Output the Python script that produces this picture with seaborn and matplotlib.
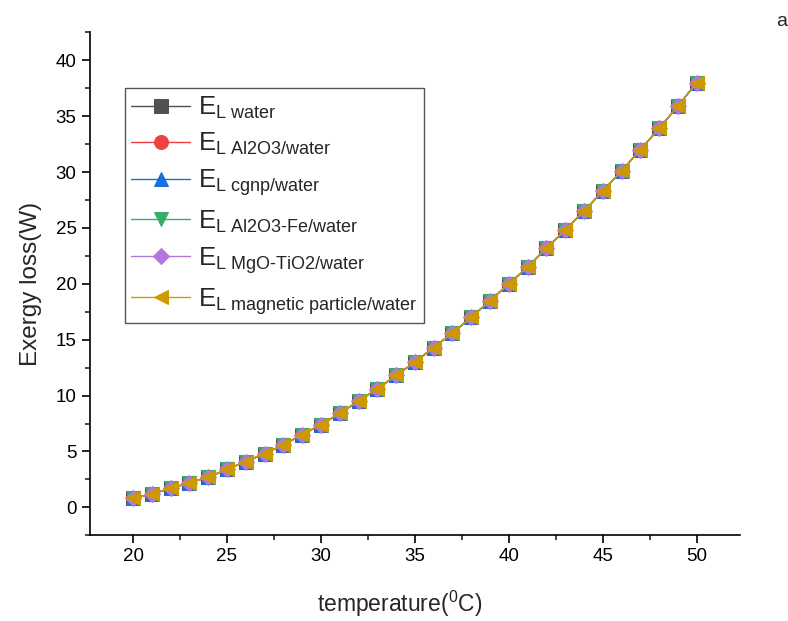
import pandas as pd
import matplotlib
matplotlib.use('Agg')
import matplotlib.pyplot as plt
from matplotlib.ticker import MultipleLocator
import seaborn as sns

# temperature (C) and exergy loss (W)
temperature = [20, 21, 22, 23, 24, 25, 26, 27, 28, 29, 30, 31, 32, 33, 34, 35,
               36, 37, 38, 39, 40, 41, 42, 43, 44, 45, 46, 47, 48, 49, 50]
el_water = [0.8, 1.2, 1.7, 2.2, 2.7, 3.4, 4.1, 4.8, 5.6, 6.5, 7.4, 8.4, 9.5, 10.6, 11.8, 13.0,
            14.3, 15.6, 17.0, 18.5, 20.0, 21.5, 23.2, 24.8, 26.5, 28.3, 30.1, 32.0, 33.9, 35.9, 38.0]
el_al2o3 = [0.8, 1.2, 1.7, 2.2, 2.7, 3.4, 4.1, 4.8, 5.6, 6.5, 7.4, 8.4, 9.5, 10.6, 11.8, 13.0,
            14.3, 15.6, 17.0, 18.5, 20.0, 21.5, 23.2, 24.8, 26.5, 28.3, 30.1, 32.0, 33.9, 35.9, 38.0]
el_cgnp = [0.8, 1.2, 1.7, 2.2, 2.7, 3.4, 4.1, 4.8, 5.6, 6.5, 7.4, 8.4, 9.5, 10.6, 11.8, 13.0,
           14.3, 15.6, 17.0, 18.5, 20.0, 21.5, 23.2, 24.8, 26.5, 28.3, 30.1, 32.0, 33.9, 35.9, 38.0]
el_al2o3_fe = [0.8, 1.2, 1.7, 2.2, 2.7, 3.4, 4.1, 4.8, 5.6, 6.5, 7.4, 8.4, 9.5, 10.6, 11.8, 13.0,
               14.3, 15.6, 17.0, 18.5, 20.0, 21.5, 23.2, 24.8, 26.5, 28.3, 30.1, 32.0, 33.9, 35.9, 38.0]
el_mgo_tio2 = [0.8, 1.2, 1.7, 2.2, 2.7, 3.4, 4.1, 4.8, 5.6, 6.5, 7.4, 8.4, 9.5, 10.6, 11.8, 13.0,
               14.3, 15.6, 17.0, 18.5, 20.0, 21.5, 23.2, 24.8, 26.5, 28.3, 30.1, 32.0, 33.9, 35.9, 38.0]
el_magnetic = [0.8, 1.2, 1.7, 2.2, 2.7, 3.4, 4.1, 4.8, 5.6, 6.5, 7.4, 8.4, 9.5, 10.6, 11.8, 13.0,
               14.3, 15.6, 17.0, 18.5, 20.0, 21.5, 23.2, 24.8, 26.5, 28.3, 30.1, 32.0, 33.9, 35.9, 38.0]

labels = ['water', 'Al2O3/water', 'cgnp/water', 'Al2O3-Fe/water',
          'MgO-TiO2/water', 'magnetic particle/water']
series = [el_water, el_al2o3, el_cgnp, el_al2o3_fe, el_mgo_tio2, el_magnetic]
colors = ['#515151', '#F14040', '#1A6FDF', '#37AD6B', '#B177DE', '#CC9900']
markers = ['s', 'o', '^', 'v', 'D', '<']

sns.set_style('ticks')
plt.rcParams['font.family'] = ['Liberation Sans', 'DejaVu Sans']
plt.rcParams['mathtext.fontset'] = 'custom'
plt.rcParams['mathtext.rm'] = 'Liberation Sans'
plt.rcParams['mathtext.it'] = 'Liberation Sans'
plt.rcParams['mathtext.default'] = 'regular'

fig = plt.figure(figsize=(7.88, 6.21), dpi=100)
ax = fig.add_axes([0.114, 0.138, 0.825, 0.81])

for name, vals, c, m in zip(labels, series, colors, markers):
    df = pd.DataFrame({'temperature': temperature, 'loss': vals})
    sns.lineplot(data=df, x='temperature', y='loss', color=c, marker=m,
                 markersize=10 if m != 'D' else 8.5, markeredgecolor=c, linewidth=1,
                 label=r'$E_{\text{L ' + name + '}}$', ax=ax)

ax.set_xlim(17.7, 52.3)
ax.set_ylim(-2.5, 42.5)
ax.xaxis.set_major_locator(MultipleLocator(5))
ax.xaxis.set_minor_locator(MultipleLocator(2.5))
ax.yaxis.set_major_locator(MultipleLocator(5))
ax.yaxis.set_minor_locator(MultipleLocator(2.5))
ax.tick_params(which='major', direction='out', length=6, width=1.2, labelsize=13.5, colors='black')
ax.tick_params(which='minor', direction='out', length=3.5, width=1.2)
for s in ['left', 'bottom']:
    ax.spines[s].set_linewidth(1.2)
    ax.spines[s].set_color('black')
sns.despine(ax=ax)

ax.set_xlabel(r'temperature($^0$C)', fontsize=16.5, labelpad=17)
ax.xaxis.label.set_x(0.477)
ax.set_ylabel('Exergy loss(W)', fontsize=17.5, labelpad=10)

leg = ax.legend(loc='upper left', bbox_to_anchor=(0.054, 0.889), borderaxespad=0,
                fontsize=18.5, fancybox=False, edgecolor='#555555', framealpha=1,
                handlelength=2.3, labelspacing=0.4, handletextpad=0.3, borderpad=0.25)
leg.get_frame().set_linewidth(1)

fig.text(0.992, 0.965, 'a', fontsize=14, ha='center', va='center')

plt.savefig('out.png', dpi=100)
